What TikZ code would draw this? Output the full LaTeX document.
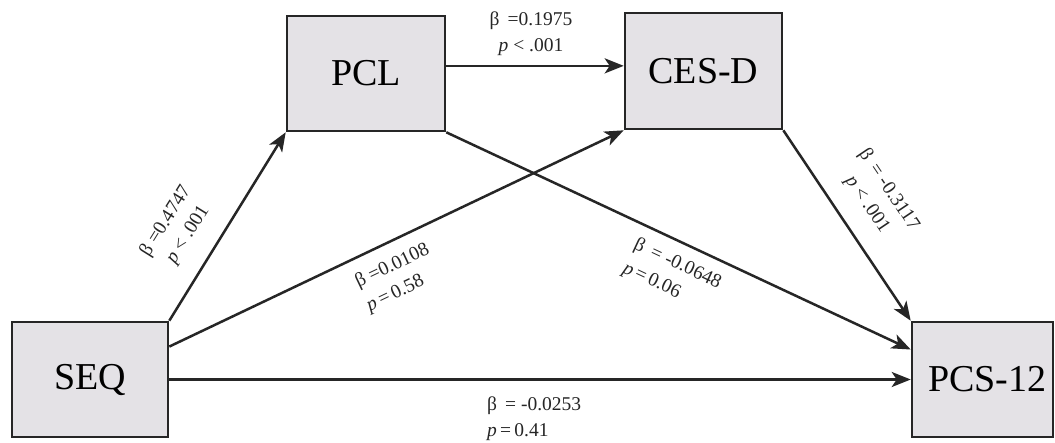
\documentclass[tikz,border=0pt]{standalone}
\usepackage{fontspec}
\setmainfont{Liberation Serif}
\usetikzlibrary{arrows.meta,calc}
\definecolor{boxfill}{HTML}{E4E2E6}
\definecolor{edge}{HTML}{262626}
\begin{document}
\begin{tikzpicture}[x=1pt,y=-1pt,
  box/.style={draw=edge, fill=boxfill, line width=2.6pt, minimum height=115pt,
    inner sep=0pt, font=\fontsize{38}{44}\selectfont},
  arr/.style={-{Stealth[length=19pt,width=15pt,inset=5pt]}, line width=2.5pt, draw=edge},
  lab/.style={font=\fontsize{19.5}{26}\selectfont, inner sep=0pt, text=black!85}]
\useasboundingbox (0,0) rectangle (1055,442);
\fill[white] (0,0) rectangle (1055,442);
% boxes
\node[box, minimum width=156pt] (SEQ) at (90,379.5) {SEQ};
\node[box, minimum width=158pt] (PCL) at (366,73.5) {PCL};
\node[box, minimum width=157pt, minimum height=116pt] (CES) at (703.5,71) {CES-D};
\node[box, minimum width=141pt] (PCS) at (982.5,379.5) {\hspace*{10pt}PCS-12};
% anchor points
\coordinate (s2) at ($(SEQ.north east)!0.22!(SEQ.south east)$);
\coordinate (p1) at ($(PCL.north east)!0.435!(PCL.south east)$);
\coordinate (t2) at ($(PCS.north west)!0.245!(PCS.south west)$);
% connectors
\draw[arr] (SEQ.north east) -- (PCL.south west);
\draw[arr] (s2) -- (CES.south west);
\draw[arr] (SEQ.east) -- (PCS.west);
\draw[arr] (p1) -- (p1 -| CES.west);
\draw[arr] (PCL.south east) -- (t2);
\draw[arr] (CES.south east) -- (PCS.north west);
% labels
\node[lab, align=center] (l1) at (531,33.5) {β\, =0.1975\\\textit{p} < .001};
\node[lab, align=center, rotate=58] (l2) at (177,228) {β =0.4747\\\textit{p} < .001};
\node[lab, align=left, rotate=25.5] (l3) at (398,278) {β =0.0108\\\textit{p}\,=\,0.58};
\node[lab, align=left, rotate=-25] (l4) at (672,276) {β\, = -0.0648\\\textit{p}\,=\,0.06};
\node[lab, align=center, rotate=-56] (l5) at (878,197) {β\, = -0.3117\\\textit{p} < .001};
\node[lab, align=left, anchor=west] (l6) at (487,418.5) {β\, = -0.0253\\\textit{p}\,=\,0.41};
\end{tikzpicture}
\end{document}
